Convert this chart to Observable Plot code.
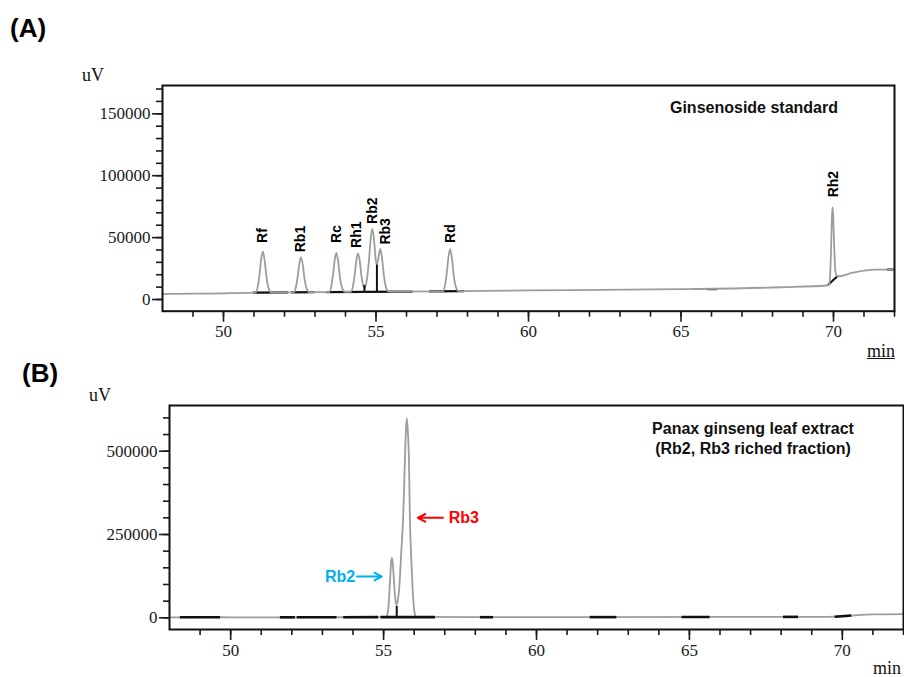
<!DOCTYPE html>
<html><head><meta charset="utf-8">
<script src="https://cdn.jsdelivr.net/npm/d3@7"></script>
<script src="https://cdn.jsdelivr.net/npm/@observablehq/plot@0.6"></script>
<style>
body{margin:0;background:#fff;}
#wrap{position:relative;width:904px;height:677px;overflow:hidden;background:#fff;}
.abs{position:absolute;line-height:1;white-space:nowrap;}
.panel{font-family:"Liberation Sans",Arial,sans-serif;font-weight:bold;font-size:26px;color:#000;}
.unit{font-family:"Liberation Serif","Times New Roman",serif;font-size:18px;color:#111;}
.ttl{font-family:"Liberation Sans",Arial,sans-serif;font-weight:bold;font-size:16px;color:#111;text-align:center;transform:translateX(-50%);}
#plotA,#plotB{position:absolute;left:0;}
#plotA{top:60px;} #plotB{top:380px;}
</style></head><body>
<div id="wrap">
  <div id="plotA"></div>
  <div id="plotB"></div>
  <div class="abs panel" style="left:10px;top:15px;">(A)</div>
  <div class="abs panel" style="left:22px;top:360px;">(B)</div>
  <div class="abs unit" style="left:82px;top:66px;">uV</div>
  <div class="abs unit" style="left:89px;top:386px;">uV</div>
  <div class="abs unit" style="left:867px;top:342px;text-decoration:underline;">min</div>
  <div class="abs unit" style="left:873px;top:659px;">min</div>
  <div class="abs ttl" style="left:754px;top:100px;">Ginsenoside standard</div>
  <div class="abs ttl" style="left:753px;top:419px;line-height:20px;">Panax ginseng leaf extract<br>(Rb2, Rb3 riched fraction)</div>
</div>
<script>
// ---------- shared x axis ----------
const xDomain = [48, 72];
const xMajorTicks = [50, 55, 60, 65, 70];
const xMinorTicks = [49,50,51,52,53,54,55,56,57,58,59,60,61,62,63,64,65,66,67,68,69,70,71,72];

// ---------- panel A : ginsenoside standard ----------
const yDomainA = [-9450, 172860];
const yMajorTicksA = [0, 50000, 100000, 150000];
const yMinorTicksA = [0,10000,20000,30000,40000,50000,60000,70000,80000,90000,100000,110000,120000,130000,140000,150000,160000,170000];

const traceTimeA = [48.00,49.00,50.00,50.96,51.05,51.13,51.19,51.24,51.29,51.35,51.41,51.48,51.57,
  52.30,52.38,52.44,52.49,52.54,52.60,52.66,52.73,52.82,
  53.46,53.54,53.60,53.65,53.70,53.76,53.82,53.89,53.98,
  54.17,54.25,54.31,54.36,54.41,54.47,54.53,54.59,54.63,
  54.70,54.77,54.825,54.88,54.94,54.99,55.03,
  55.09,55.14,55.20,55.26,55.33,55.42,
  57.19,57.27,57.33,57.38,57.43,57.49,57.55,57.62,57.71,
  60.00,65.00,68.30,69.78,69.86,69.90,69.93,69.955,69.97,69.99,70.02,70.05,70.09,
  70.20,70.60,71.00,71.40,72.00];
const traceValA = [4500,4700,5000,5500,5600,11200,22150,33400,38700,31400,17850,8900,5700,
  5800,10600,19950,29570,34100,27870,16270,8630,5900,
  6000,11370,21800,32540,37600,30650,17700,9160,6100,
  6100,11420,21750,32390,37400,30510,17680,10500,9000,
  16000,31600,48870,57000,47000,32000,28200,
  35360,40900,33290,19100,9760,6400,
  6600,12380,23600,35160,40600,33120,19180,10000,6800,
  7300,8300,9900,11300,12500,25000,50000,70000,74400,68000,45000,27000,19500,
  18800,21500,23400,24200,24200];

// integration baselines (start time, end time, start value, end value)
const segT1A = [50.96, 52.22, 53.36, 54.62, 56.74, 65.85, 69.80, 71.75];
const segT2A = [52.11, 52.98, 54.62, 56.20, 57.89, 66.18, 70.12, 72.00];
const segV1A = [5600, 5800, 6000, 6100, 6600, 8400, 11300, 24200];
const segV2A = [5800, 5900, 6100, 6400, 6800, 8400, 18600, 24200];
// drop lines between co-eluting peaks
const dropTA = [54.62, 55.03];
const dropLowA = [6100, 6200];
const dropHighA = [11800, 28200];

const peakNamesA = ["Rf","Rb1","Rc","Rh1","Rb2","Rb3","Rd","Rh2"];
const labelTimeA = [51.28, 52.52, 53.70, 54.37, 54.89, 55.31, 57.43, 69.99];
const labelValA = [45700, 38150, 45700, 41700, 61050, 44360, 45700, 82500];

// ---------- panel B : leaf extract ----------
const yDomainB = [-35100, 637200];
const yMajorTicksB = [0, 250000, 500000];
const yMinorTicksB = [0,50000,100000,150000,200000,250000,300000,350000,400000,450000,500000,550000,600000];

const traceTimeB = [48.00,49.30,50.00,52.00,54.00,55.08,55.13,55.17,55.21,55.245,55.27,55.30,55.34,55.38,55.42,
  55.47,55.52,55.58,55.64,55.69,55.73,55.76,55.79,55.83,55.86,55.91,55.96,56.02,56.07,
  58.00,62.00,66.00,69.50,70.00,70.50,71.00,72.00];
const traceValB = [1500,1800,1500,1500,1800,2000,12000,45000,110000,165000,178800,165000,110000,60000,39000,
  55000,100000,200000,300000,450000,560000,599000,565000,470000,300000,170000,70000,12000,2500,
  1800,2000,2500,3000,4000,8000,10000,11000];

const segT1B = [48.34, 51.61, 52.16, 53.68, 54.90, 58.15, 61.74, 64.74, 68.06, 69.75];
const segT2B = [49.65, 52.10, 53.46, 54.82, 56.68, 58.58, 62.61, 65.66, 68.55, 70.29];
const segV1B = [1500, 1500, 1500, 1800, 2000, 1800, 2000, 2400, 2800, 3000];
const segV2B = [1500, 1500, 1600, 1900, 1900, 1800, 2000, 2500, 2800, 7000];
const dropTB = [55.43];
const dropLowB = [1900];
const dropHighB = [36000];

const annNamesB = ["Rb2", "Rb3"];
const annColorsB = ["#00b0f0", "#ff0000"];
const annTextTB = [54.07, 57.13];
const annValB = [123900, 300000];
const arrowFromTB = [54.13, 56.94];
const arrowToTB = [54.94, 56.12];

// ---------- helpers ----------
const serif = "'Liberation Serif','Times New Roman',serif";
const sans = "'Liberation Sans',Arial,sans-serif";
const traceColor = "#9d9d9d";

function axes(yMajor, yMinor) {
  return [
    Plot.axisY({ticks: yMinor, tickSize: 6, tickFormat: () => "", strokeWidth: 1.6, label: null}),
    Plot.axisY({ticks: yMajor, tickSize: 10, tickPadding: 2, tickFormat: d => String(d), strokeWidth: 1.6, label: null}),
    Plot.axisX({ticks: xMinorTicks, tickSize: 6, tickFormat: () => "", strokeWidth: 1.6, label: null}),
    Plot.axisX({ticks: xMajorTicks, tickSize: 11, tickPadding: 3, tickFormat: d => String(d), strokeWidth: 1.6, label: null})
  ];
}

// ---------- plot A ----------
const dataA = traceTimeA.map((t, i) => ({t, v: traceValA[i]}));
const segA = segT1A.map((t, i) => ({t1: t, t2: segT2A[i], v1: segV1A[i], v2: segV2A[i]}));
const dropsA = dropTA.map((t, i) => ({t, lo: dropLowA[i], hi: dropHighA[i]}));
const labelsA = peakNamesA.map((n, i) => ({n, t: labelTimeA[i], v: labelValA[i]}));

const plotA = Plot.plot({
  width: 904, height: 290,
  marginLeft: 162, marginRight: 10, marginTop: 25, marginBottom: 39.3,
  x: {domain: xDomain},
  y: {domain: yDomainA},
  style: {fontFamily: serif, fontSize: "17px", color: "#1a1a1a", background: "transparent", overflow: "visible"},
  marks: [
    Plot.link(segA, {x1: "t1", x2: "t2", y1: "v1", y2: "v2", stroke: "#111", strokeWidth: 2.2}),
    Plot.line(dataA, {x: "t", y: "v", stroke: traceColor, strokeWidth: 1.8, curve: "monotone-x"}),
    Plot.link(dropsA, {x1: "t", x2: "t", y1: "lo", y2: "hi", stroke: "#111", strokeWidth: 2}),
    Plot.text(labelsA, {x: "t", y: "v", text: "n", rotate: -90, textAnchor: "start", lineAnchor: "middle",
      fontFamily: sans, fontWeight: "bold", fontSize: 14, fill: "#000"}),
    ...axes(yMajorTicksA, yMinorTicksA),
    Plot.frame({stroke: "#111", strokeWidth: 2})
  ]
});
document.getElementById("plotA").appendChild(plotA);

// ---------- plot B ----------
const dataB = traceTimeB.map((t, i) => ({t, v: traceValB[i]}));
const segB = segT1B.map((t, i) => ({t1: t, t2: segT2B[i], v1: segV1B[i], v2: segV2B[i]}));
const dropsB = dropTB.map((t, i) => ({t, lo: dropLowB[i], hi: dropHighB[i]}));
const annB = annNamesB.map((n, i) => ({n, c: annColorsB[i], tt: annTextTB[i], v: annValB[i], f: arrowFromTB[i], to: arrowToTB[i]}));

const plotB = Plot.plot({
  width: 904, height: 290,
  marginLeft: 169, marginRight: 1, marginTop: 25, marginBottom: 41,
  x: {domain: xDomain},
  y: {domain: yDomainB},
  style: {fontFamily: serif, fontSize: "17px", color: "#1a1a1a", background: "transparent", overflow: "visible"},
  marks: [
    Plot.line(dataB, {x: "t", y: "v", stroke: traceColor, strokeWidth: 1.8, curve: "monotone-x"}),
    Plot.link(segB, {x1: "t1", x2: "t2", y1: "v1", y2: "v2", stroke: "#111", strokeWidth: 2.6}),
    Plot.link(dropsB, {x1: "t", x2: "t", y1: "lo", y2: "hi", stroke: "#111", strokeWidth: 2}),
    Plot.arrow(annB, {x1: "f", x2: "to", y1: "v", y2: "v", stroke: "c", strokeWidth: 2, headLength: 8, headAngle: 55}),
    Plot.text(annB.filter(d => d.n === "Rb2"), {x: "tt", y: "v", text: "n", fill: "c", textAnchor: "end",
      fontFamily: sans, fontWeight: "bold", fontSize: 16}),
    Plot.text(annB.filter(d => d.n === "Rb3"), {x: "tt", y: "v", text: "n", fill: "c", textAnchor: "start",
      fontFamily: sans, fontWeight: "bold", fontSize: 16}),
    ...axes(yMajorTicksB, yMinorTicksB),
    Plot.frame({stroke: "#111", strokeWidth: 2})
  ]
});
document.getElementById("plotB").appendChild(plotB);
</script>
</body></html>
